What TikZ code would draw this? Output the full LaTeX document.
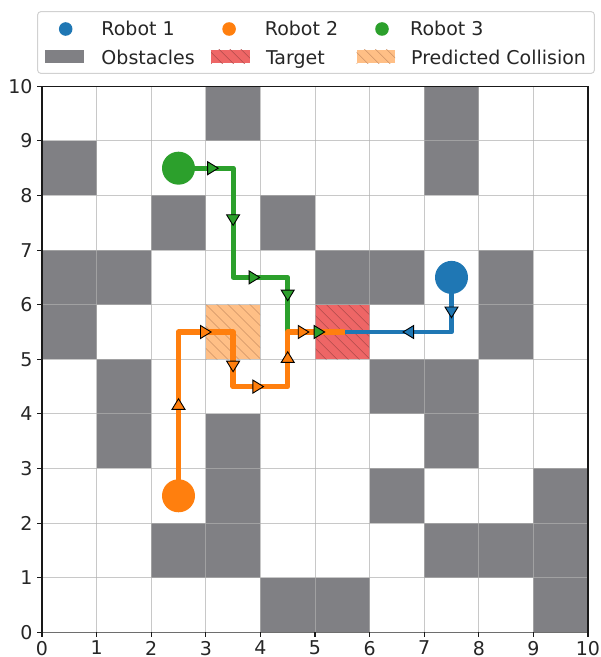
\documentclass[tikz,border=0pt]{standalone}
\usepackage{fontspec}
\setmainfont{DejaVu Sans}
\definecolor{cA}{RGB}{31,119,180}
\definecolor{cB}{RGB}{255,127,14}
\definecolor{cC}{RGB}{44,160,44}
\definecolor{obst}{RGB}{128,128,132}
\definecolor{targetfill}{RGB}{238,102,102}
\definecolor{targethatch}{RGB}{175,75,75}
\definecolor{collfill}{RGB}{255,191,134}
\definecolor{collhatch}{RGB}{205,145,100}
\definecolor{gridc}{RGB}{176,176,176}
\definecolor{txt}{RGB}{38,38,38}
\newcommand\hatchrect[3]{%
  \begin{scope}
    \clip (#1) rectangle (#2);
    \foreach \k in {-2,...,11} {\draw[#3, line width=0.6pt] ([shift={({\k*11pt-70pt},70pt)}]#1) -- ++(140pt,-140pt);}
  \end{scope}}
\newcommand\mk[4]{\draw[fill=#4, draw=black, line width=0.9pt, line join=miter, shift={(#1,#2)}, rotate=#3] (5.3pt,0) -- (-5.3pt,6.5pt) -- (-5.3pt,-6.5pt) -- cycle;}
\begin{document}
\fontsize{19}{22}\selectfont
\begin{tikzpicture}[x=54.6pt,y=54.6pt,
  gridline/.style={draw=gridc, draw opacity=0.7, line width=1pt},
  spine/.style={draw=black!90, line width=1.1pt},
  pathA/.style={draw=cA, line width=4.8pt, line join=round, line cap=rect},
  pathB/.style={draw=cB, line width=5.5pt, line join=round, line cap=rect},
  pathC/.style={draw=cC, line width=5pt, line join=round, line cap=rect},
  ticklab/.style={inner sep=0pt, text=txt, font=\fontsize{19}{22}\selectfont},
  legtext/.style={anchor=base west, inner sep=0pt, text=txt, font=\fontsize{19}{22}\selectfont}]
\begin{scope}[shift={(-42pt,632.3pt)}, x=1pt, y=-1pt]
  \useasboundingbox (0,0) rectangle (601,657);
\end{scope}
% obstacles
\foreach \cx/\cy in {3/9,7/9, 0/8,7/8, 2/7,4/7, 0/6,1/6,5/6,6/6,8/6, 0/5,8/5, 1/4,6/4,7/4, 1/3,3/3,7/3, 3/2,6/2,9/2, 2/1,3/1,7/1,8/1,9/1, 4/0,5/0,9/0}
  {\fill[obst] (\cx,\cy) rectangle ++(1,1);}
% target and collision
\fill[targetfill] (5,5) rectangle (6,6);
\hatchrect{5,5}{6,6}{targethatch}
\fill[collfill] (3,5) rectangle (4,6);
\hatchrect{3,5}{4,6}{collhatch}
% grid
\foreach \i in {1,...,9} {\draw[gridline] (\i,0) -- (\i,10); \draw[gridline] (0,\i) -- (10,\i);}
% spines
\draw[spine] (0,0) -- (0,10) -- (10,10) -- (10,0);
\draw[draw={rgb,255:red,110;green,110;blue,110}, line width=1.5pt] (0,0) -- (10,0);
% ticks and labels
\foreach \i in {0,...,10} {
  \draw[spine] (\i,0) -- ++(0,-5pt);
  \draw[spine] (0,\i) -- ++(-5pt,0);
  \node[ticklab, anchor=north] (xl\i) at ([yshift=-8.4pt]\i,0) {\i};
  \node[ticklab, anchor=east] (yl\i) at ([xshift=-9.3pt]0,\i) {\i};
}
% paths
\draw[pathA] (7.5,6.5) -- (7.5,5.5) -- (5.5,5.5);
\draw[pathC] (2.5,8.5) -- (3.5,8.5) -- (3.5,6.5) -- (4.5,6.5) -- (4.5,5.5) -- (5.5,5.5);
\draw[pathB] (2.5,2.5) -- (2.5,5.5) -- (3.5,5.5) -- (3.5,4.5) -- (4.5,4.5) -- (4.5,5.5) -- (5.5,5.5);
% direction markers
\mk{7.5}{5.86}{-90}{cA}
\mk{6.71}{5.5}{180}{cA}
\mk{3.13}{8.5}{0}{cC}
\mk{3.5}{7.55}{-90}{cC}
\mk{3.89}{6.5}{0}{cC}
\mk{4.5}{6.17}{-90}{cC}
\mk{5.08}{5.5}{0}{cC}
\mk{2.5}{4.18}{90}{cB}
\mk{3.0}{5.5}{0}{cB}
\mk{3.5}{4.87}{-90}{cB}
\mk{3.96}{4.5}{0}{cB}
\mk{4.5}{5.04}{90}{cB}
\mk{4.79}{5.5}{0}{cB}
% robots
\fill[cA] (7.5,6.5) circle (16.5pt);
\fill[cB] (2.5,2.5) circle (16.5pt);
\fill[cC] (2.5,8.5) circle (16.5pt);
% legend
\begin{scope}[shift={(-42pt,632.3pt)}, x=1pt, y=-1pt]
  \draw[rounded corners=3pt, draw=black!18, fill=white, line width=1pt] (37.7,11.7) rectangle (594.3,73.3);
  \fill[cA] (65.7,29) circle (6.8pt);
  \node[legtext] (l1) at (101.3,35.7) {Robot 1};
  \fill[cB] (229.1,29) circle (6.8pt);
  \node[legtext] (l2) at (264.7,35.7) {Robot 2};
  \fill[cC] (382,29) circle (6.8pt);
  \node[legtext] (l3) at (410,35.7) {Robot 3};
  \fill[obst] (45,50) rectangle (84.2,63.3);
  \node[legtext] (l4) at (101.3,65) {Obstacles};
  \fill[targetfill] (211,50) rectangle (249.8,63.3);
  \hatchrect{211,63.3}{249.8,50}{targethatch}
  \node[legtext] (l5) at (265.8,65) {Target};
  \fill[collfill] (356.6,50) rectangle (395.1,63.3);
  \hatchrect{356.6,63.3}{395.1,50}{collhatch}
  \node[legtext] (l6) at (411,65) {Predicted Collision};
\end{scope}
\end{tikzpicture}
\end{document}
